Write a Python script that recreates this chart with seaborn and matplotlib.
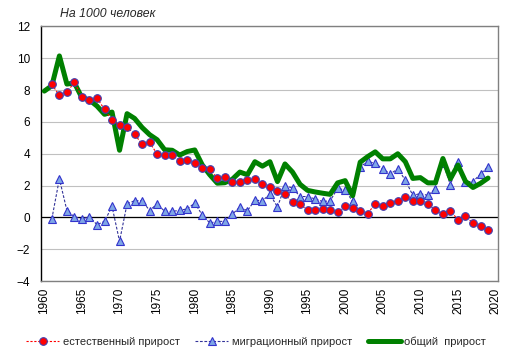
import numpy as np
import pandas as pd
import matplotlib
matplotlib.use("Agg")
import matplotlib.pyplot as plt
import seaborn as sns

# Data (per 1000 people)
years = list(range(1960, 2020))

natural = [np.nan,
           8.36, 7.67, 7.89, 8.48, 7.56, 7.35, 7.50, 6.79, 6.13, 5.79,
           5.67, 5.23, 4.60, 4.71, 3.98, 3.92, 3.91, 3.55, 3.60, 3.42,
           3.10, 3.04, 2.46, 2.56, 2.22, 2.24, 2.33, 2.40, 2.10, 1.94,
           1.63, 1.44, 0.94, 0.86, 0.44, 0.44, 0.52, 0.44, 0.36, 0.69,
           0.57, 0.39, 0.23, 0.87, 0.69, 0.92, 1.02, 1.27, 1.06, 1.06,
           0.85, 0.44, 0.23, 0.42, -0.15, 0.06, -0.35, -0.56, -0.77]

migration = [np.nan,
             -0.09, 2.43, 0.43, 0.04, -0.09, 0.04, -0.46, -0.25, 0.69, -1.50,
             0.85, 1.05, 1.05, 0.43, 0.85, 0.38, 0.38, 0.44, 0.54, 0.90,
             0.15, -0.35, -0.25, -0.25, 0.20, 0.65, 0.42, 1.08, 1.05, 1.46,
             0.65, 1.99, 1.85, 1.31, 1.31, 1.16, 1.00, 1.04, 1.82, 1.72,
             1.00, 3.18, 3.52, 3.40, 3.04, 2.74, 3.04, 2.35, 1.38, 1.50,
             1.38, 1.80, 3.44, 2.04, 3.48, 2.25, 2.25, 2.73, 3.19]

total = [7.94,
         8.28, 10.15, 8.38, 8.45, 7.52, 7.38, 7.00, 6.48, 6.62, 4.22,
         6.52, 6.22, 5.65, 5.20, 4.88, 4.25, 4.22, 3.92, 4.14, 4.24,
         3.30, 2.68, 2.15, 2.18, 2.40, 2.85, 2.68, 3.50, 3.22, 3.50,
         2.25, 3.36, 2.85, 2.08, 1.70, 1.60, 1.52, 1.45, 2.17, 2.31,
         1.36, 3.47, 3.82, 4.12, 3.68, 3.68, 4.00, 3.50, 2.45, 2.50,
         2.17, 2.17, 3.70, 2.43, 3.29, 2.27, 1.88, 2.14, 2.47]

labels = ["естественный прирост", "миграционный прирост", "общий  прирост"]
x_ticks = list(range(1960, 2021, 5))
y_ticks = list(range(-4, 13, 2))

df = pd.DataFrame({"year": years, "natural": natural,
                   "migration": migration, "total": total})

sns.set_style("white")
plt.rcParams["font.family"] = ["Liberation Sans", "DejaVu Sans"]

fig = plt.figure(figsize=(5.12, 3.58), dpi=100)
ax = fig.add_axes([0.080, 0.215, 0.893, 0.711])

sns.lineplot(data=df, x="year", y="migration", ax=ax, color="#333399",
             linestyle=(0, (2.5, 1.5)), linewidth=0.8, marker="^",
             markersize=6, markerfacecolor="#7ea6e6", markeredgecolor="#3333cc",
             markeredgewidth=0.8, label=labels[1], zorder=2)
sns.lineplot(data=df, x="year", y="total", ax=ax, color="#008000",
             linewidth=3.6, label=labels[2], zorder=3)
sns.lineplot(data=df, x="year", y="natural", ax=ax, color="#ff0000",
             linestyle=(0, (2, 1.5)), linewidth=0.8, marker="o",
             markersize=5.5, markerfacecolor="#ff0000", markeredgecolor="#4040b0",
             markeredgewidth=0.8, label=labels[0], zorder=4)

ax.set_xlim(1959.55, 2020.35)
ax.set_ylim(-4, 12)
ax.set_xticks(x_ticks)
ax.set_yticks(y_ticks)
ax.set_xticklabels([str(t) for t in x_ticks], rotation=90)
ax.tick_params(axis="both", length=0, labelsize=8.5, colors="black")
ax.tick_params(axis="y", pad=8)
ax.tick_params(axis="x", pad=5)
ax.set_xlabel("")
ax.set_ylabel("")

ax.grid(axis="y", color="#c0c0c0", linewidth=0.8)
ax.grid(axis="x", visible=False)
ax.axhline(0, color="black", linewidth=0.9, zorder=1.5)
ax.set_axisbelow(True)

for side in ["top", "right", "bottom"]:
    ax.spines[side].set_color("#808080")
    ax.spines[side].set_linewidth(1.0)
ax.spines["left"].set_color("black")
ax.spines["left"].set_linewidth(1.0)

fig.text(0.117, 0.961, "На 1000 человек", fontsize=8.8, style="italic",
         va="center", ha="left")

handles, lbls = ax.get_legend_handles_labels()
order = [lbls.index(l) for l in labels]
ax.legend([handles[i] for i in order], labels, loc="center",
          bbox_to_anchor=(0.5, 0.045), bbox_transform=fig.transFigure,
          ncol=3, frameon=False, fontsize=8, handlelength=3.0,
          handletextpad=0.3, columnspacing=1.4, borderaxespad=0)

fig.savefig("out.png", dpi=100)
